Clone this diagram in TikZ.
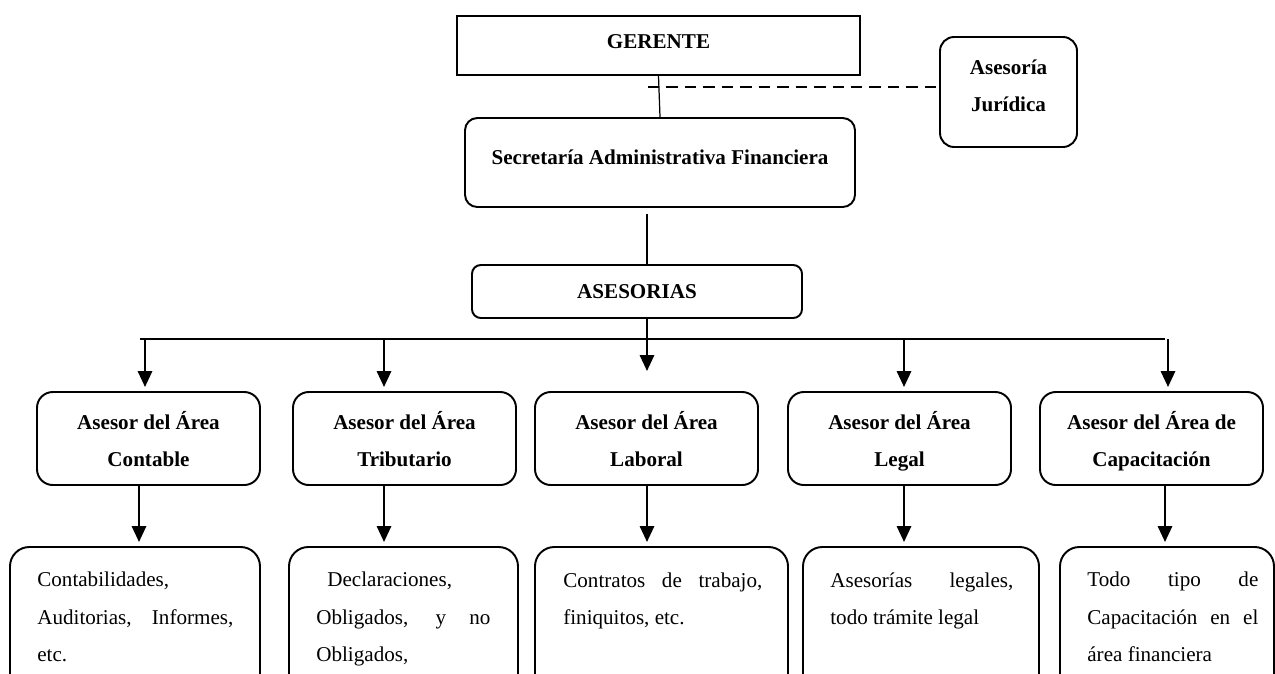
\documentclass[tikz,border=0pt]{standalone}
\usepackage{fontspec}
\setmainfont{Liberation Serif}
\usetikzlibrary{arrows.meta}

\begin{document}
\begin{tikzpicture}[
    x=0.2mm, y=-0.2mm,
    font=\fontsize{12}{21}\selectfont,
    chiefbox/.style={draw, line width=1.1pt, minimum width=80.6mm, minimum height=11.8mm, font=\fontsize{12}{21}\selectfont\bfseries, text depth=5pt},
    rbox/.style={draw, line width=1.1pt, rounded corners=8pt, align=center, font=\fontsize{12}{21}\selectfont\bfseries},
    areabox/.style={rbox, minimum width=44.6mm, minimum height=18.6mm, rounded corners=9pt, text depth=-1pt},
    taskbox/.style={draw, line width=1.1pt, rounded corners=11pt, minimum height=30.6mm},
    tasktext/.style={anchor=north west, inner sep=0pt, align=left, font=\fontsize{12}{21.3}\selectfont},
    arr/.style={-{Triangle[length=9pt,width=8pt]}, line width=1.4pt, shorten >=0.8mm},
    link/.style={line width=0.7pt},
    dashlink/.style={line width=1.5pt, dash pattern=on 6.5pt off 4pt}
]
\useasboundingbox (0,0) rectangle (1275,673);
\clip (0,0) rectangle (1275,673);

% cabeza
\node[chiefbox] (gerente) at (658.5,45.5) {GERENTE};
\node[rbox, minimum width=27.4mm, minimum height=22mm, text depth=6.8pt] (juridica) at (1008.5,92) {Asesoría\\Jurídica};
\node[rbox, minimum width=78mm, minimum height=17.8mm, rounded corners=7pt, text depth=6pt] (secretaria) at (660,162.5) {Secretaría Administrativa Financiera};
\node[rbox, minimum width=66mm, minimum height=10.6mm, rounded corners=5pt] (asesorias) at (637,291.5) {ASESORIAS};

% asesores
\node[areabox] (aContable) at (148.5,438.5) {Asesor del Área\\Contable};
\node[areabox] (aTributario) at (404.5,438.5) {Asesor del Área\\Tributario};
\node[areabox] (aLaboral) at (646.5,438.5) {Asesor del Área\\Laboral};
\node[areabox] (aLegal) at (899.5,438.5) {Asesor del Área\\Legal};
\node[areabox] (aCapacitacion) at (1151.5,438.5) {Asesor del Área de\\Capacitación};

% tareas
\node[taskbox, minimum width=50mm] (bContable) at (135,623.5) {};
\node[taskbox, minimum width=45.8mm] (bTributario) at (403.5,623.5) {};
\node[taskbox, minimum width=50.6mm] (bLaboral) at (661.5,623.5) {};
\node[taskbox, minimum width=47.2mm] (bLegal) at (921,623.5) {};
\node[taskbox, minimum width=42.8mm] (bCapacitacion) at (1167,623.5) {};

\node[tasktext] (tContable) at (37,572) {Contabilidades,\\\makebox[39.2mm][s]{Auditorias, Informes,}\\etc.};
\node[tasktext] (tTributario) at (316,572) {\hspace*{2.2mm}Declaraciones,\\\makebox[34.8mm][s]{Obligados, y no}\\Obligados,};
\node[tasktext] (tLaboral) at (563,572) {\makebox[39.8mm][s]{Contratos de trabajo,}\\finiquitos, etc.};
\node[tasktext] (tLegal) at (830,572) {\makebox[36.6mm][s]{Asesorías legales,}\\todo trámite legal};
\node[tasktext] (tCapacitacion) at (1087,572) {\makebox[34.2mm][s]{Todo tipo de}\\\makebox[34.2mm][s]{Capacitación en el}\\área financiera};

% lineas
\coordinate (jdash) at (648,87);
\coordinate (jmid) at (647,339);
\coordinate (busL) at (140,339);
\coordinate (busR) at (1165,339);
\coordinate (j1) at (145,339);
\coordinate (j2) at (384,339);
\coordinate (j4) at (904,339);
\coordinate (j5) at (1168,339);
\coordinate (k1) at (139,515);
\coordinate (k2) at (384,515);
\coordinate (k3) at (647,515);
\coordinate (k4) at (904,515);
\coordinate (k5) at (1165,515);

\draw[link] (gerente.south) -- (secretaria.north);
\draw[dashlink] (jdash) -- (jdash -| juridica.west);
\draw[link, line width=0.8pt, shorten <=1.2mm] (jmid |- secretaria.south) -- (jmid |- asesorias.north);
\draw[line width=1.4pt] (busL) -- (busR);
\draw[arr, shorten >=4mm] (jmid |- asesorias.south) -- (jmid |- aLaboral.north);
\draw[arr] (j1) -- (j1 |- aContable.north);
\draw[arr] (j2) -- (j2 |- aTributario.north);
\draw[arr] (j4) -- (j4 |- aLegal.north);
\draw[arr] (j5) -- (j5 |- aCapacitacion.north);

\draw[arr] (k1 |- aContable.south) -- (k1 |- bContable.north);
\draw[arr] (k2 |- aTributario.south) -- (k2 |- bTributario.north);
\draw[arr] (k3 |- aLaboral.south) -- (k3 |- bLaboral.north);
\draw[arr] (k4 |- aLegal.south) -- (k4 |- bLegal.north);
\draw[arr] (k5 |- aCapacitacion.south) -- (k5 |- bCapacitacion.north);
\end{tikzpicture}
\end{document}
